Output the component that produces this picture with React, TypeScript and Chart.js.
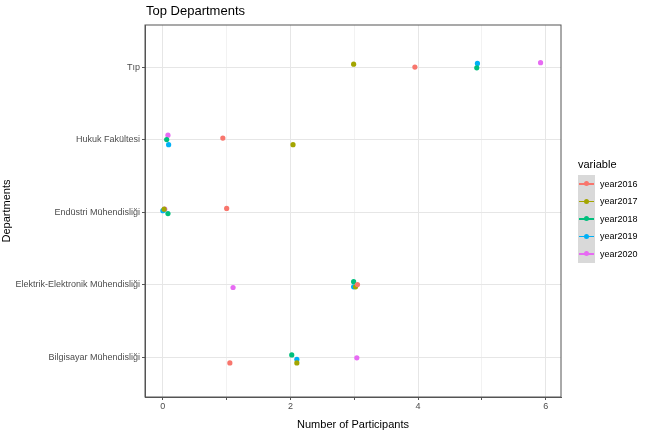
import React, { useEffect, useRef } from "react";
import { Chart, registerables } from "chart.js";
Chart.register(...registerables);

const departments = ["Bilgisayar Mühendisliği", "Elektrik-Elektronik Mühendisliği", "Endüstri Mühendisliği", "Hukuk Fakültesi", "Tıp"];
const seriesNames = ["year2016", "year2017", "year2018", "year2019", "year2020"];
const colors = ["#F8766D", "#A3A500", "#00BF7D", "#00B0F6", "#E76BF3"];
// [x value, y position (category index 1..5 with jitter)]
const year2016: [number, number][] = [[1.05, 0.92], [3.05, 2.0], [1.0, 3.05], [0.94, 4.02], [3.95, 5.0]];
const year2017: [number, number][] = [[2.1, 0.92], [3.02, 1.97], [0.02, 3.04], [2.04, 3.93], [2.99, 5.04]];
const year2018: [number, number][] = [[2.02, 1.03], [2.99, 2.04], [0.08, 2.98], [0.06, 4.0], [4.92, 4.99]];
const year2019: [number, number][] = [[2.1, 0.97], [2.99, 1.97], [0.0, 3.02], [0.09, 3.93], [4.93, 5.05]];
const year2020: [number, number][] = [[3.04, 0.99], [1.1, 1.96], [0.03, 3.04], [0.08, 4.06], [5.92, 5.06]];
const allSeries = [year2016, year2017, year2018, year2019, year2020];

export default function App() {
  const ref = useRef<HTMLCanvasElement>(null);
  useEffect(() => {
    const chart = new Chart(ref.current!, {
      type: "scatter",
      data: {
        datasets: allSeries.map((s, i) => ({
          label: seriesNames[i],
          data: s.map(([x, y]) => ({ x, y })),
          backgroundColor: colors[i],
          borderColor: colors[i],
          pointRadius: 2.6,
          borderWidth: 0,
        })),
      },
      options: {
        animation: false,
        responsive: false,
        layout: { padding: { top: 25, right: 87, left: 0, bottom: 0 } },
        plugins: { legend: { display: false }, tooltip: { enabled: false } },
        scales: {
          x: {
            type: "linear", min: -0.28, max: 6.24,
            afterBuildTicks: (s: any) => { s.ticks = [0, 1, 2, 3, 4, 5, 6].map((v) => ({ value: v })); },
            afterFit: (s: any) => { s.height = 35; },
            ticks: { callback: (v: any) => (v % 2 === 0 ? String(v) : ""), color: "#4d4d4d", font: { size: 9, family: "Liberation Sans" }, padding: 1, maxRotation: 0 },
            grid: { color: (c: any) => (c.tick && c.tick.value % 2 === 0 ? "#e6e6e6" : "#f2f2f2"), tickLength: 3, tickColor: "#555" },
            border: { color: "#555" },
            title: { display: true, text: "Number of Participants", color: "#000", font: { size: 11, family: "Liberation Sans" }, padding: 0 },
          },
          y: {
            type: "linear", min: 0.45, max: 5.58,
            afterBuildTicks: (s: any) => { s.ticks = [1, 2, 3, 4, 5].map((v) => ({ value: v })); },
            afterFit: (s: any) => { s.width = 145; },
            ticks: { callback: (v: any) => departments[v - 1], color: "#4d4d4d", font: { size: 9, family: "Liberation Sans" }, padding: 2 },
            grid: { color: "#e6e6e6", tickLength: 3, tickColor: "#555" },
            border: { color: "#555" },
            title: { display: true, text: "Departments", color: "#000", font: { size: 11, family: "Liberation Sans" }, padding: 0 },
          },
        },
      },
      plugins: [{
        id: "frame",
        afterDraw(c: any) {
          const { ctx, chartArea: a } = c;
          ctx.save(); ctx.strokeStyle = "#555"; ctx.lineWidth = 1;
          ctx.strokeRect(a.left, a.top, a.right - a.left, a.bottom - a.top);
          ctx.restore();
        },
      }],
    } as any);
    return () => chart.destroy();
  }, []);
  return (
    <div style={{ position: "fixed", left: 0, top: 0, width: 648, height: 432, background: "#fff", fontFamily: "Liberation Sans, Arial, sans-serif" }}>
      <canvas ref={ref} width={648} height={432} />
      <div style={{ position: "absolute", left: 146, top: 3, fontSize: 13, color: "#000" }}>Top Departments</div>
      <div style={{ position: "absolute", left: 578, top: 158 }}>
        <div style={{ fontSize: 11, marginBottom: 5 }}>variable</div>
        {seriesNames.map((n, i) => (
          <div key={n} style={{ display: "flex", alignItems: "center", height: 17.5 }}>
            <div style={{ width: 17, height: 17.5, background: "#d9d9d9", position: "relative" }}>
              <div style={{ position: "absolute", left: 1, right: 1, top: 8, height: 1.5, background: colors[i] }} />
              <div style={{ position: "absolute", left: 6, top: 6, width: 5, height: 5, borderRadius: 3, background: colors[i] }} />
            </div>
            <span style={{ fontSize: 9, marginLeft: 5 }}>{n}</span>
          </div>
        ))}
      </div>
    </div>
  );
}
